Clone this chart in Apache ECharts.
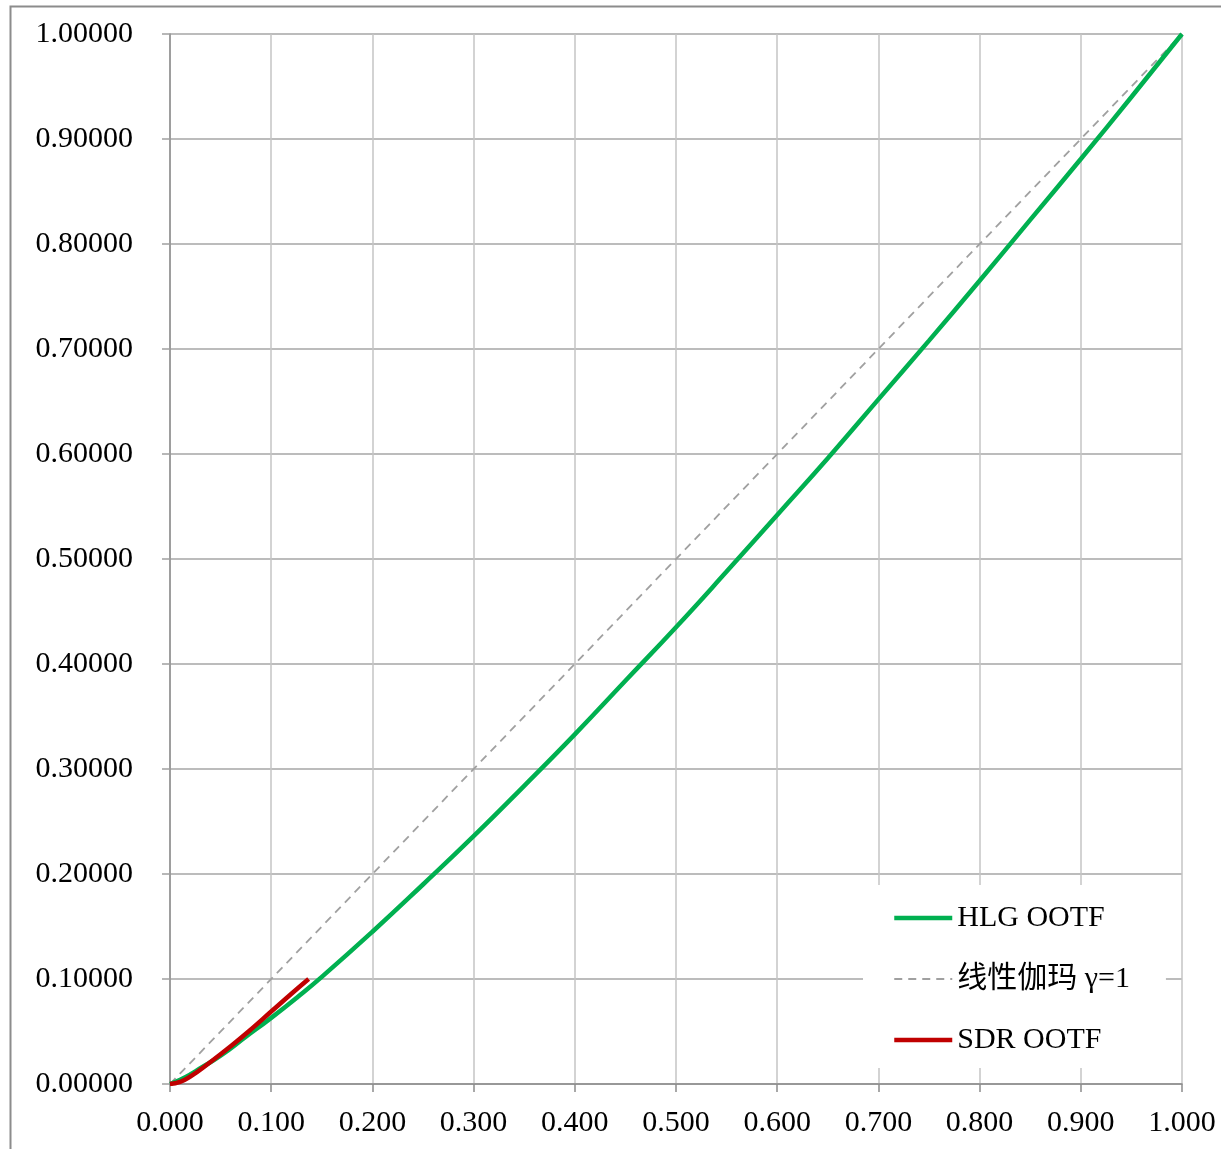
<!DOCTYPE html>
<html>
<head>
<meta charset="utf-8">
<script src="https://cdn.jsdelivr.net/npm/echarts@6/dist/echarts.min.js"></script>
<style>html,body{margin:0;padding:0;background:#fff}#c{width:1221px;height:1149px}</style>
</head>
<body>
<div id="c"></div>
<script>
// HLG OOTF curve
const hlgX = [0, 0.01, 0.02, 0.03, 0.05, 0.075, 0.1, 0.125, 0.15, 0.2, 0.25, 0.3, 0.35, 0.4, 0.45, 0.5, 0.55, 0.6, 0.65, 0.7, 0.75, 0.8, 0.85, 0.9, 0.95, 1.0];
const hlgY = [0, 0.004, 0.009, 0.015, 0.027, 0.045, 0.063, 0.082, 0.102, 0.145, 0.19, 0.236, 0.284, 0.333, 0.384, 0.435, 0.488, 0.542, 0.596, 0.652, 0.708, 0.765, 0.823, 0.881, 0.94, 1.0];
// Linear gamma 1
const linX = [0, 1];
const linY = [0, 1];
// SDR OOTF
const sdrX = [0, 0.01, 0.02, 0.04, 0.06, 0.08, 0.1, 0.12, 0.137];
const sdrY = [0, 0.002, 0.007, 0.021, 0.036, 0.052, 0.069, 0.086, 0.1];
const seriesNames = ['HLG OOTF', '线性伽玛 γ=1', 'SDR OOTF'];

const zip = (xs, ys) => xs.map((x, i) => [x, ys[i]]);
const FONT = '"Liberation Serif", "Times New Roman", "Noto Sans CJK SC", serif';

const chart = echarts.init(document.getElementById('c'), null, {renderer: 'canvas'});
chart.setOption({
  animation: false,
  backgroundColor: '#fff',
  graphic: [{
    type: 'rect', left: 8, top: 4, z: -1,
    shape: {width: 1400, height: 1400},
    style: {fill: 'none', stroke: '#8c8c8c', lineWidth: 2}
  }],
  grid: {left: 170, right: 39, top: 34, bottom: 65},
  xAxis: {
    type: 'value', min: 0, max: 1, interval: 0.1,
    axisLine: {show: true, lineStyle: {color: '#8c8c8c', width: 1.5}},
    axisTick: {show: true, length: 8, lineStyle: {color: '#8c8c8c', width: 1.5}},
    splitLine: {show: true, lineStyle: {color: '#c4c4c4', width: 1.5}},
    axisLabel: {formatter: v => v.toFixed(3), fontFamily: FONT, fontSize: 30, color: '#000', margin: 24}
  },
  yAxis: {
    type: 'value', min: 0, max: 1, interval: 0.1,
    axisLine: {show: true, lineStyle: {color: '#8c8c8c', width: 1.5}},
    axisTick: {show: true, length: 8, lineStyle: {color: '#a0a0a0', width: 1.5}},
    splitLine: {show: true, lineStyle: {color: '#a6a6a6', width: 1.5}},
    axisLabel: {formatter: v => v.toFixed(5), fontFamily: FONT, fontSize: 30, color: '#000', margin: 37}
  },
  legend: {
    orient: 'vertical', left: 863, top: 885,
    backgroundColor: '#fff',
    padding: [18, 36, 13, 29],
    itemWidth: 58, itemHeight: 14, itemGap: 31,
    itemStyle: {color: 'rgba(0,0,0,0)', borderColor: 'rgba(0,0,0,0)', borderWidth: 0, opacity: 0},
    lineStyle: {width: 'inherit', type: 'inherit'},
    textStyle: {fontFamily: FONT, fontSize: 30, color: '#000', lineHeight: 30, padding: [0, 0, 0, 0]},
    data: seriesNames
  },
  series: [
    {name: seriesNames[0], type: 'line', data: zip(hlgX, hlgY), smooth: true, symbol: 'none', z: 3,
      lineStyle: {color: '#00b050', width: 4.5}, itemStyle: {color: '#00b050'}},
    {name: seriesNames[1], type: 'line', data: zip(linX, linY), symbol: 'none', z: 2,
      lineStyle: {color: '#a0a0a0', width: 1.8, type: [8, 6]}, itemStyle: {color: '#a0a0a0'}},
    {name: seriesNames[2], type: 'line', data: zip(sdrX, sdrY), smooth: true, symbol: 'none', z: 4,
      lineStyle: {color: '#c00000', width: 4.5}, itemStyle: {color: '#c00000'}}
  ]
});
</script>
</body>
</html>
